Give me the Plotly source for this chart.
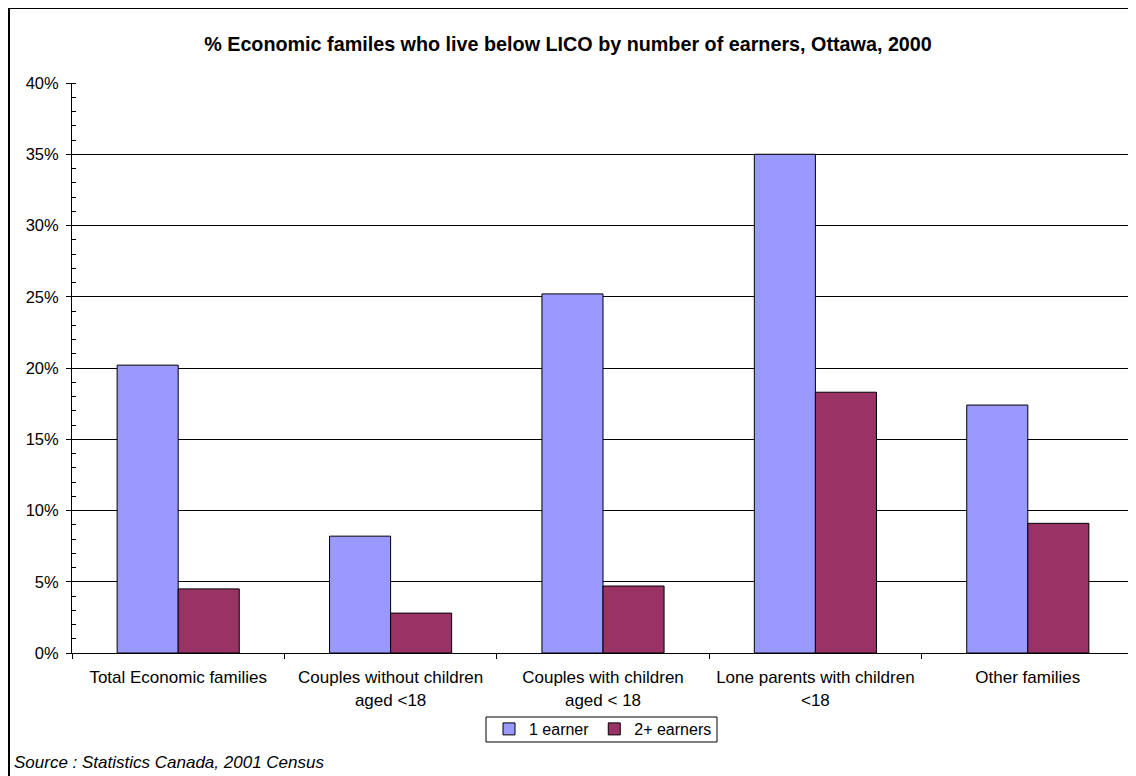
import plotly.graph_objects as go

categories = [
    "Total Economic families",
    "Couples without children<br>aged &lt;18",
    "Couples with children<br>aged &lt; 18",
    "Lone parents with children<br>&lt;18",
    "Other families",
]
one_earner = [0.202, 0.082, 0.252, 0.350, 0.174]
two_plus_earners = [0.045, 0.028, 0.047, 0.183, 0.091]

FONT = "Liberation Sans, Arial, sans-serif"

fig = go.Figure()
fig.add_trace(go.Bar(
    x=categories, y=one_earner, name="1 earner",
    marker=dict(color="#9999FF", line=dict(color="black", width=1)),
))
fig.add_trace(go.Bar(
    x=categories, y=two_plus_earners, name="2+ earners",
    marker=dict(color="#993366", line=dict(color="black", width=1)),
))

# page has an 8px body margin, so figure coords = window coords - 8
W, H = 1136, 776
L, R, T, B = 64, 10, 75, 131
pw = W - L - R
ph = H - T - B

def px_to_paper_x(px):
    return (px - L) / pw

def px_to_paper_y(py):
    return (H - B - py) / ph

fig.update_layout(
    width=W, height=H,
    margin=dict(l=L, r=R, t=T, b=B),
    paper_bgcolor="white", plot_bgcolor="white",
    barmode="group", bargap=0.425, bargroupgap=0,
    font=dict(family=FONT, size=16, color="black"),
    title=dict(
        text="<b>% Economic familes who live below LICO by number of earners, Ottawa, 2000</b>",
        x=560 / W, xref="container", xanchor="center",
        y=1 - 36 / H, yref="container", yanchor="middle",
        font=dict(family=FONT, size=19.75, color="black"),
    ),
    showlegend=True,
    legend=dict(
        orientation="h", x=0.5, xanchor="center",
        y=px_to_paper_y(704), yanchor="top",
        borderwidth=0, bgcolor="rgba(0,0,0,0)",
        font=dict(family=FONT, size=16, color="black"),
        itemwidth=30, tracegroupgap=0,
    ),
    xaxis=dict(
        showline=True, linecolor="black", linewidth=1,
        ticks="outside", ticklen=5, tickcolor="black",
        tickson="boundaries", showgrid=False,
        ticklabelstandoff=9,
        tickfont=dict(family=FONT, size=17, color="black"),
    ),
    yaxis=dict(
        range=[0, 0.40], dtick=0.05, tickformat=".0%",
        showline=True, linecolor="black", linewidth=1,
        ticks="outside", ticklen=5, tickcolor="black",
        showgrid=True, gridcolor="black", gridwidth=1,
        zeroline=False, ticklabelstandoff=4,
        tickfont=dict(family=FONT, size=16.5, color="black"),
        minor=dict(dtick=0.01, ticks="inside", ticklen=4, tickcolor="black", showgrid=False),
    ),
    shapes=[
        dict(type="line", xref="paper", yref="paper", x0=1, x1=1, y0=0, y1=1,
             line=dict(color="#888888", width=1)),
        dict(type="rect", xref="paper", yref="paper",
             x0=px_to_paper_x(478), x1=px_to_paper_x(709),
             y0=px_to_paper_y(734), y1=px_to_paper_y(709),
             line=dict(color="black", width=1), fillcolor="rgba(0,0,0,0)"),
        dict(type="rect", xref="paper", yref="paper",
             x0=px_to_paper_x(1), x1=px_to_paper_x(1160),
             y0=px_to_paper_y(800), y1=px_to_paper_y(0),
             line=dict(color="black", width=2), fillcolor="rgba(0,0,0,0)", layer="above"),
    ],
    annotations=[
        dict(text="<i>Source : Statistics Canada, 2001 Census</i>",
             xref="paper", yref="paper",
             x=px_to_paper_x(4), xanchor="left",
             y=px_to_paper_y(754), yanchor="middle",
             showarrow=False, font=dict(family=FONT, size=17, color="black")),
    ],
)

fig.write_html("out.html")
